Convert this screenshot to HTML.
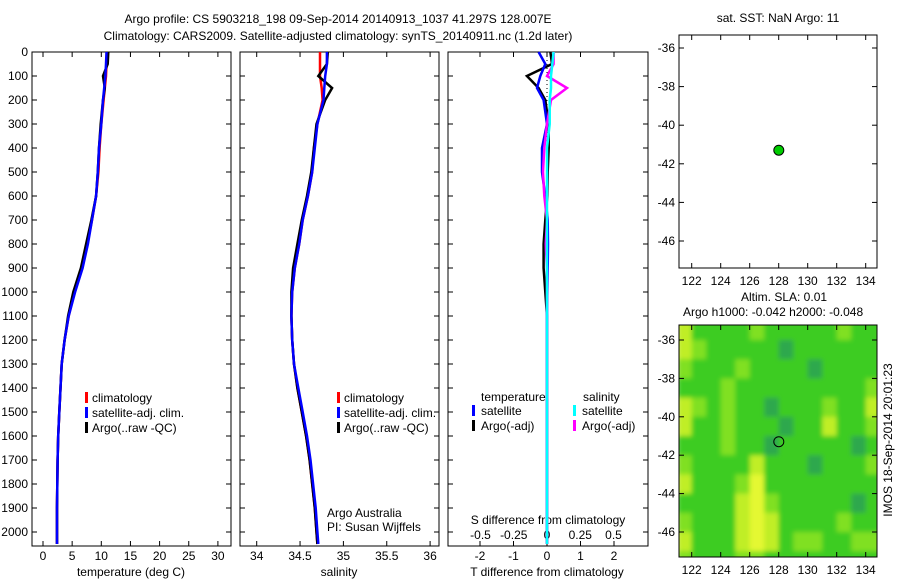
<!DOCTYPE html>
<html><head><meta charset="utf-8"><style>
body{margin:0;background:#fff;width:900px;height:580px;overflow:hidden}
svg{font-family:"Liberation Sans",sans-serif;font-size:12px}
</style></head><body>
<svg id="c" width="900" height="580" xmlns="http://www.w3.org/2000/svg">
<defs>
<filter id="bl" filterUnits="userSpaceOnUse" x="660" y="300" width="240" height="280"><feGaussianBlur stdDeviation="2.5"/></filter>
<clipPath id="mapclip"><rect x="679" y="325" width="198" height="232"/></clipPath>
</defs>
<text x="338" y="23" text-anchor="middle">Argo profile: CS 5903218_198 09-Sep-2014 20140913_1037 41.297S 128.007E</text>
<text x="338" y="40" text-anchor="middle">Climatology: CARS2009. Satellite-adjusted climatology: synTS_20140911.nc (1.2d later)</text>
<g id="g"></g>
</svg>
<script>
const depths=[0,50,100,150,200,300,400,500,600,700,800,900,1000,1100,1200,1300,1400,1500,1600,1700,1800,1900,2000,2050];
const tClim=[11.0,10.9,10.8,10.6,10.4,10.0,9.7,9.5,9.1,8.4,7.6,6.7,5.4,4.4,3.7,3.2,3.0,2.8,2.6,2.5,2.45,2.4,2.4,2.4];
const tSat=[10.9,10.8,10.7,10.5,10.3,10.0,9.6,9.4,9.1,8.4,7.7,6.8,5.5,4.4,3.7,3.2,3.0,2.8,2.6,2.5,2.45,2.4,2.4,2.4];
const tArgo=[11.2,11.1,10.3,10.6,10.3,9.9,9.6,9.4,9.1,8.3,7.4,6.5,5.2,4.3,3.7,3.2,3.0,2.8,2.6,2.5,2.45,2.4,2.4,2.4];
const sClim=[34.73,34.73,34.73,34.75,34.76,34.70,34.66,34.64,34.59,34.53,34.49,34.44,34.41,34.40,34.41,34.43,34.47,34.52,34.57,34.61,34.64,34.67,34.69,34.70];
const sSat=[34.81,34.81,34.79,34.78,34.77,34.70,34.67,34.64,34.59,34.53,34.49,34.44,34.41,34.40,34.41,34.43,34.48,34.53,34.58,34.62,34.65,34.68,34.70,34.71];
const sArgo=[34.82,34.81,34.71,34.87,34.79,34.69,34.66,34.63,34.58,34.52,34.47,34.42,34.40,34.40,34.41,34.43,34.47,34.52,34.57,34.61,34.64,34.67,34.69,34.70];
const dTSat=[-0.25,-0.05,-0.2,-0.3,-0.1,0,-0.15,-0.15,-0.05,0.02,0.03,0.02,0.01,0,0,0,0,0,0,0,0,0,0,0];
const dTArgo=[0.1,0.15,-0.6,-0.25,-0.05,0.05,0.05,0.02,0.01,-0.05,-0.1,-0.1,-0.05,0,0,0,0,0,0,0,0,0,0,0];
const dSSat=[0.05,0.04,0.03,0.03,0.02,0.02,0.0,0,0,0,0,0,0,0,0,0,0,0,0,0,0,0,0,0];
const dSArgo=[0.05,0.05,0.0,0.15,0.03,0.0,-0.02,-0.03,-0.02,0,-0.01,0,0,0,0,0,0,0,0,0,0,0,0,0];
const depthTicks=[0,100,200,300,400,500,600,700,800,900,1000,1100,1200,1300,1400,1500,1600,1700,1800,1900,2000];
const tTicks=[0,5,10,15,20,25,30];
const sTicks=[34,34.5,35,35.5,36];
const dTTicks=[-2,-1,0,1,2];
const dSTicks=[-0.5,-0.25,0,0.25,0.5];
const latTicks=[-36,-38,-40,-42,-44,-46];
const lonTicks=[122,124,126,128,130,132,134];
const argoLon=128.007, argoLat=-41.297;
const slaGrid=[
[3,1,1,1,1,2,1,1,1,1,1,2,1,1],
[3,2,1,1,1,1,1,0,1,1,1,1,1,1],
[2,1,1,1,2,1,1,1,1,0,1,1,1,1],
[1,1,1,2,1,1,1,1,1,1,1,1,1,2],
[3,2,1,2,1,1,0,1,1,1,2,1,1,3],
[3,1,1,2,1,1,1,0,1,1,3,1,1,2],
[1,1,1,2,1,1,0,1,1,1,1,1,0,1],
[2,1,1,1,1,3,1,1,1,0,1,1,1,2],
[3,1,1,1,2,4,1,1,1,1,1,1,1,1],
[1,1,1,1,3,4,2,1,1,1,1,1,0,1],
[2,1,1,1,3,4,3,1,1,1,1,2,1,1],
[3,1,1,1,3,4,3,1,2,2,1,1,2,2],
[2,1,1,1,2,2,1,1,1,1,1,1,1,1]];
const slaColors=['#2ea84e','#3ccc22','#80e024','#c0ee28','#e4f830'];

const NS='http://www.w3.org/2000/svg';
const G=document.getElementById('g');
function el(t,a,p){const e=document.createElementNS(NS,t);for(const k in a)e.setAttribute(k,a[k]);(p||G).appendChild(e);return e;}
function txt(x,y,s,anchor,p){const e=el('text',{x:x,y:y,'text-anchor':anchor||'middle'},p);e.textContent=s;return e;}
const yD=d=>52+d*0.24;
const PY0=52,PY1=546;
function panel(x0,x1,name){
  const r=el('rect',{x:x0,y:PY0,width:x1-x0,height:PY1-PY0,fill:'none',stroke:'#000'});
  
  
  depthTicks.forEach(d=>{el('line',{x1:x0,x2:x0+5,y1:yD(d),y2:yD(d),stroke:'#000'});el('line',{x1:x1-5,x2:x1,y1:yD(d),y2:yD(d),stroke:'#000'});});
}
function line(vals,xf,color,name,w){
  const pts=depths.map((d,i)=>xf(vals[i]).toFixed(1)+','+yD(d).toFixed(1)).join(' ');
  const p=el('polyline',{points:pts,fill:'none',stroke:color,'stroke-width':w||2.5});
  
  
}
function xticks(ticks,xf,ty,axisName){
  ticks.forEach(t=>{const x=xf(t);el('line',{x1:x,x2:x,y1:PY1-5,y2:PY1,stroke:'#000'});el('line',{x1:x,x2:x,y1:PY0,y2:PY0+5,stroke:'#000'});
    const e=txt(x,ty,String(t));});
}
function legendBar(x,y,color){el('rect',{x:x,y:y-10,width:3,height:11,fill:color});}

// Panel 1 temperature
const xT=t=>43+5.83*t;
panel(32,231,'temperature-panel');
depthTicks.forEach(d=>{const e=txt(28,yD(d)+4,String(d),'end');});
xticks(tTicks,xT,560,'temperature-axis');
const tt=txt(131,576,'temperature (deg C)');
line(tClim,xT,'#f00','temp-climatology-line');
line(tArgo,xT,'#000','temp-argo-line');
line(tSat,xT,'#00f','temp-satellite-line');
[['#f00','climatology'],['#00f','satellite-adj. clim.'],['#000','Argo(..raw -QC)']].forEach((l,i)=>{legendBar(85,402+i*15,l[0]);const e=txt(92,402+i*15,l[1],'start');});

// Panel 2 salinity
const xS=s=>256.7+86.7*(s-34);
panel(240,439,'salinity-panel');
xticks(sTicks,xS,560,'salinity-axis');
const st=txt(339,576,'salinity');
line(sClim,xS,'#f00','sal-climatology-line');
line(sArgo,xS,'#000','sal-argo-line');
line(sSat,xS,'#00f','sal-satellite-line');
[['#f00','climatology'],['#00f','satellite-adj. clim.'],['#000','Argo(..raw -QC)']].forEach((l,i)=>{legendBar(337,402+i*15,l[0]);const e=txt(344,402+i*15,l[1],'start');});
txt(327,517,'Argo Australia','start');
txt(327,531,'PI: Susan Wijffels','start');

// Panel 3 differences
const xDT=t=>547+33.5*t;
const xDS=s=>547+133*s;
panel(448,648,'difference-panel');
dTTicks.forEach(t=>{const x=xDT(t);el('line',{x1:x,x2:x,y1:PY1-5,y2:PY1,stroke:'#000'});el('line',{x1:x,x2:x,y1:PY0,y2:PY0+5,stroke:'#000'});txt(x,560,String(t));});
dSTicks.forEach(t=>{txt(xDS(t),539,String(t));});
txt(548,524,'S difference from climatology');
txt(547,576,'T difference from climatology');
el('line',{x1:547,x2:547,y1:PY0,y2:PY1,stroke:'#000','stroke-dasharray':'1,3'});
line(dTArgo,xDT,'#000','tdiff-argo-line');
line(dTSat,xDT,'#00f','tdiff-satellite-line');
line(dSArgo,xDS,'#f0f','sdiff-argo-line');
line(dSSat,xDS,'#0ff','sdiff-satellite-line');
txt(481,401,'temperature','start');
txt(583,401,'salinity','start');
legendBar(472,415,'#00f');txt(481,415,'satellite','start');
legendBar(472,430,'#000');txt(481,430,'Argo(-adj)','start');
legendBar(573,415,'#0ff');txt(582,415,'satellite','start');
legendBar(573,430,'#f0f');txt(582,430,'Argo(-adj)','start');

// Maps
const lonX=l=>691.7+14.5*(l-122);
function mapAxes(y0,y1,latY,name){
  const r=el('rect',{x:679,y:y0,width:198,height:y1-y0,fill:'none',stroke:'#000'});
  
  
  latTicks.forEach(l=>{const y=latY(l);el('line',{x1:679,x2:684,y1:y,y2:y,stroke:'#000'});el('line',{x1:872,x2:877,y1:y,y2:y,stroke:'#000'});txt(675,y+4,String(l),'end');});
  lonTicks.forEach(l=>{const x=lonX(l);el('line',{x1:x,x2:x,y1:y1-5,y2:y1,stroke:'#000'});el('line',{x1:x,x2:x,y1:y0,y2:y0+5,stroke:'#000'});txt(x,y1+17,String(l));});
}
const latY1=l=>48+19.3*(-36-l);
txt(778,22,'sat. SST: NaN Argo: 11');
mapAxes(35,268,latY1,'sst-map');
const dot=el('circle',{cx:lonX(argoLon),cy:latY1(argoLat),r:5,fill:'#0c0',stroke:'#000'});



const latY2=l=>340+19.2*(-36-l);
txt(741,301,'Altim. SLA: 0.01','start');
txt(683,316,'Argo h1000: -0.042 h2000: -0.048','start');
const hg=el('g',{'clip-path':'url(#mapclip)'});
const hm=el('g',{filter:'url(#bl)'},hg);
slaGrid.forEach((row,ri)=>row.forEach((v,ci)=>{
  const lon0=121+ci, lat0=-35-ri;
  const c=el('rect',{x:lonX(lon0),y:latY2(lat0),width:15,height:19.7,fill:slaColors[v]},hm);
  
  
}));
mapAxes(325,557,latY2,'sla-map');
const ring=el('circle',{cx:lonX(argoLon),cy:latY2(argoLat),r:5,fill:'none',stroke:'#000'});


const rt=txt(0,0,'IMOS 18-Sep-2014 20:01:23');
rt.setAttribute('transform','translate(892,440) rotate(-90)');


</script>
</body></html>
